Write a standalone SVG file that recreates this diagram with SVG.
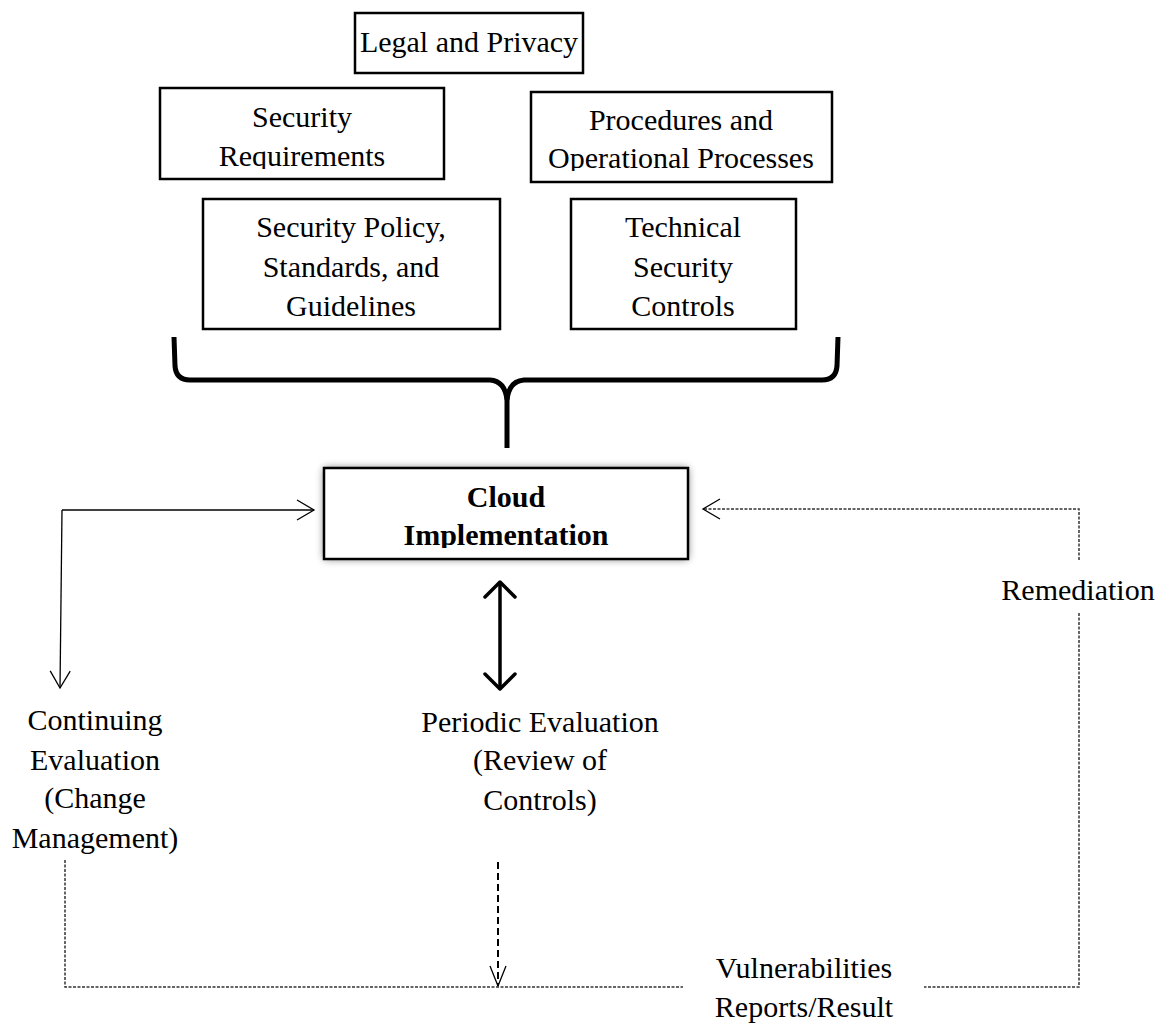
<svg xmlns="http://www.w3.org/2000/svg" width="1170" height="1026" viewBox="0 0 1170 1026">
<defs>
<style>
.box{fill:#fff;stroke:#000;stroke-width:2.5}
.t{font-family:"Liberation Serif","DejaVu Serif",serif;font-size:30px;fill:#000;text-anchor:middle}
.b{font-weight:bold}
.thin{fill:none;stroke:#000;stroke-width:1.3}
.dash{fill:none;stroke:#333;stroke-width:1.5;stroke-dasharray:3 1.5}
.thick{fill:none;stroke:#000;stroke-width:3.5}
.mdash{fill:none;stroke:#000;stroke-width:2;stroke-dasharray:7 4}
.brace{fill:none;stroke:#000;stroke-width:5;stroke-linecap:butt;stroke-linejoin:round}
</style>
<marker id="mThin" markerUnits="userSpaceOnUse" markerWidth="22" markerHeight="24" refX="18" refY="11" orient="auto" overflow="visible">
<path d="M1,1 L18,11 L1,21" fill="none" stroke="#000" stroke-width="1.3"/>
</marker>
<marker id="mThick" markerUnits="userSpaceOnUse" markerWidth="22" markerHeight="36" refX="16" refY="16" orient="auto-start-reverse" overflow="visible">
<path d="M1,1 L16,16 L1,31" fill="none" stroke="#000" stroke-width="3.5" stroke-linecap="round" stroke-linejoin="round"/>
</marker>
<marker id="mDash" markerUnits="userSpaceOnUse" markerWidth="24" markerHeight="20" refX="20" refY="8" orient="auto" overflow="visible">
<path d="M0,0 L20,8 L0,16" fill="none" stroke="#000" stroke-width="1.3"/>
</marker>
<filter id="glow" x="-10%" y="-20%" width="120%" height="140%">
<feGaussianBlur stdDeviation="4"/>
</filter>
<clipPath id="clipReq"><rect x="150" y="80" width="300" height="89"/></clipPath>
<clipPath id="clipProc"><rect x="520" y="80" width="320" height="91"/></clipPath>
<clipPath id="clipCloud"><rect x="320" y="460" width="372" height="88"/></clipPath>
</defs>
<rect width="1170" height="1026" fill="#fff"/>

<g id="legal">
<rect class="box" x="355" y="13" width="228" height="60"/>
<text class="t" x="469" y="52">Legal and Privacy</text>
</g>

<g id="security-requirements">
<rect class="box" x="160" y="88" width="284" height="91"/>
<text class="t" x="302" y="127">Security</text>
<text class="t" x="302" y="166" clip-path="url(#clipReq)">Requirements</text>
</g>

<g id="procedures">
<rect class="box" x="531" y="92" width="301" height="90"/>
<text class="t" x="681" y="130">Procedures and</text>
<text class="t" x="681" y="168" clip-path="url(#clipProc)">Operational Processes</text>
</g>

<g id="security-policy">
<rect class="box" x="203" y="199" width="297" height="130"/>
<text class="t" x="351" y="237">Security Policy,</text>
<text class="t" x="351" y="277">Standards, and</text>
<text class="t" x="351" y="316">Guidelines</text>
</g>

<g id="technical-controls">
<rect class="box" x="571" y="199" width="225" height="130"/>
<text class="t" x="683" y="237">Technical</text>
<text class="t" x="683" y="277">Security</text>
<text class="t" x="683" y="316">Controls</text>
</g>

<g id="brace">
<path class="brace" d="M174,337 L175,366 Q176,380 190,380 L490,380 Q505,381 507,400 L507,448"/>
<path class="brace" d="M838,337 L837,366 Q836,380 822,380 L524,380 Q509,381 507,400"/>
</g>

<g id="cloud-implementation">
<rect x="324" y="468" width="364" height="91" fill="#000" opacity="0.55" filter="url(#glow)"/>
<rect class="box" x="324" y="468" width="364" height="91" stroke-width="3"/>
<text class="t b" x="506" y="507">Cloud</text>
<text class="t b" x="506" y="545" clip-path="url(#clipCloud)">Implementation</text>
</g>

<g id="continuing-evaluation">
<text class="t" x="95" y="730">Continuing</text>
<text class="t" x="95" y="770">Evaluation</text>
<text class="t" x="95" y="808">(Change</text>
<text class="t" x="95" y="848">Management)</text>
</g>

<g id="periodic-evaluation">
<text class="t" x="540" y="732">Periodic Evaluation</text>
<text class="t" x="540" y="770">(Review of</text>
<text class="t" x="540" y="810">Controls)</text>
</g>

<g id="remediation">
<text class="t" x="1078" y="600">Remediation</text>
</g>

<g id="vulnerabilities">
<text class="t" x="804" y="978">Vulnerabilities</text>
<text class="t" x="804" y="1017">Reports/Result</text>
</g>

<g id="connectors">
<path class="thin" d="M62,510 L314,510" marker-end="url(#mThin)"/>
<path class="thin" d="M62,510 L60,688" marker-end="url(#mThin)"/>
<path class="thick" d="M500,582 L500,689" marker-start="url(#mThick)" marker-end="url(#mThick)"/>
<path class="mdash" d="M498,862 L498,986" marker-end="url(#mDash)"/>
<path class="dash" d="M1079,560 L1079,509 L703,509" marker-end="url(#mThin)"/>
<path class="dash" d="M1079,613 L1079,987 L924,987"/>
<path class="dash" d="M65,860 L65,987 L683,987"/>
</g>
</svg>
